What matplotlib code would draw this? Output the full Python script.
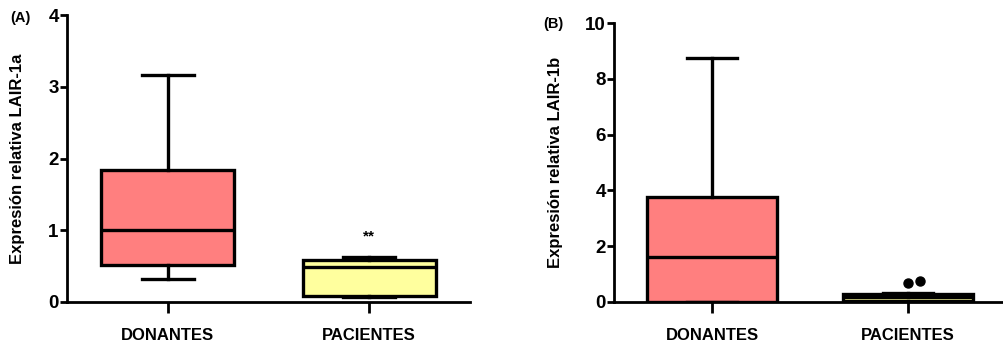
import matplotlib
matplotlib.use("Agg")
import matplotlib.pyplot as plt

plt.rcParams['font.family'] = ['Liberation Sans', 'DejaVu Sans']
plt.rcParams['font.weight'] = 'bold'

# ---- data ----
groups = ["DONANTES", "PACIENTES"]
colors = ["#FF7F7F", "#FFFF9E"]

# panel A: LAIR-1a
a_whislo = [0.32, 0.07]
a_q1 = [0.51, 0.09]
a_med = [1.00, 0.49]
a_q3 = [1.84, 0.585]
a_whishi = [3.17, 0.63]
a_fliers = [[], []]
a_yticks = [0, 1, 2, 3, 4]

# panel B: LAIR-1b
b_whislo = [0.0, 0.0]
b_q1 = [0.0, 0.03]
b_med = [1.60, 0.18]
b_q3 = [3.75, 0.30]
b_whishi = [8.74, 0.32]
b_fliers = [[], [0.68, 0.75]]
b_yticks = [0, 2, 4, 6, 8, 10]


def make_stats(whislo, q1, med, q3, whishi, fliers):
    out = []
    for i in range(len(groups)):
        out.append(dict(whislo=whislo[i], q1=q1[i], med=med[i], q3=q3[i],
                        whishi=whishi[i], fliers=fliers[i], label=groups[i]))
    return out


def draw(ax, stats, yticks, ylabel):
    lw = 2.4
    bp = ax.bxp(stats, positions=[1, 2], widths=0.66, patch_artist=True,
                showfliers=False,
                boxprops=dict(linewidth=lw, edgecolor='black'),
                medianprops=dict(color='black', linewidth=lw),
                whiskerprops=dict(color='black', linewidth=lw),
                capprops=dict(color='black', linewidth=lw),
                capwidths=0.26)
    for patch, c in zip(bp['boxes'], colors):
        patch.set_facecolor(c)
    # outliers, GraphPad-style side by side
    for i, st in enumerate(stats):
        fl = st['fliers']
        for j, v in enumerate(fl):
            ax.plot(i + 1 + 0.06 * j, v, 'o', color='black', markersize=6.5)
    ax.set_xlim(0.5, 2.5)
    ax.set_ylim(yticks[0], yticks[-1])
    ax.set_yticks(yticks)
    ax.set_xticks([1, 2])
    ax.set_xticklabels(groups, fontsize=12, fontweight='bold')
    ax.tick_params(axis='y', labelsize=13.5, width=2, length=5, pad=1)
    ax.tick_params(axis='x', width=2, length=8, pad=11)
    for s in ['top', 'right']:
        ax.spines[s].set_visible(False)
    for s in ['left', 'bottom']:
        ax.spines[s].set_linewidth(2)
    ax.set_ylabel(ylabel, fontsize=12, fontweight='bold')
    for lab in ax.get_yticklabels():
        lab.set_fontweight('bold')


fig = plt.figure(figsize=(10.04, 3.49), dpi=100)

ax1 = fig.add_axes([67 / 1004, 1 - 302 / 349, (470 - 67) / 1004, (302 - 15) / 349])
draw(ax1, make_stats(a_whislo, a_q1, a_med, a_q3, a_whishi, a_fliers),
     a_yticks, "Expresión relativa LAIR-1a")
ax1.yaxis.set_label_coords(-0.105, 0.5)
ax1.text(2, 0.82, "**", ha='center', va='bottom', fontsize=11, fontweight='bold')
fig.text(10 / 1004, 1 - 18 / 349, "(A)", fontsize=10.5, fontweight='bold', va='center')

ax2 = fig.add_axes([614 / 1004, 1 - 302 / 349, (1006 - 614) / 1004, (302 - 23) / 349])
draw(ax2, make_stats(b_whislo, b_q1, b_med, b_q3, b_whishi, b_fliers),
     b_yticks, "Expresión relativa LAIR-1b")
ax2.yaxis.set_label_coords(-0.13, 0.5)
fig.text(543 / 1004, 1 - 24 / 349, "(B)", fontsize=10.5, fontweight='bold', va='center')

fig.savefig("out.png", dpi=100)
